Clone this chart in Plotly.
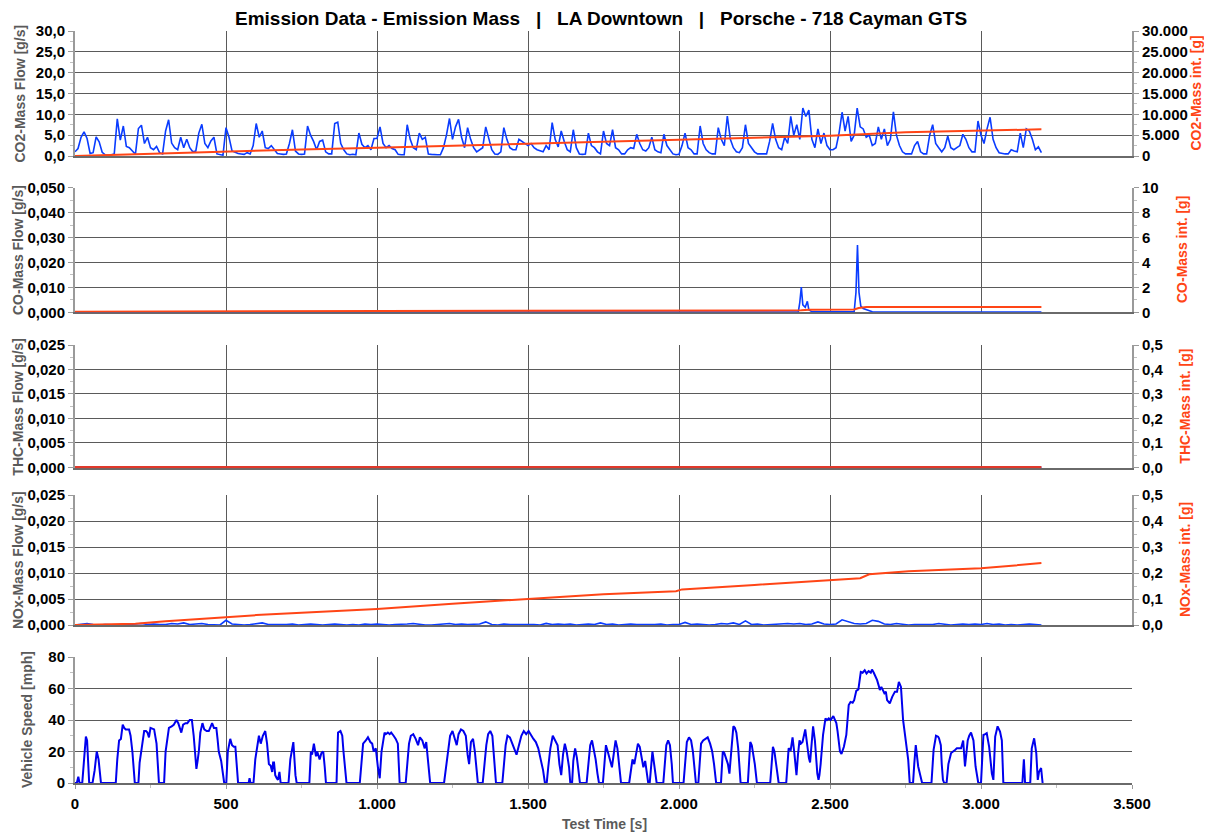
import plotly.graph_objects as go

# ---- data ----
# CO2 mass flow, one sample every 10 s
co2_time = list(range(0, 3201, 10))
co2_flow = [
    1.0, 1.8, 4.5, 5.8, 4.2, 0.6, 0.8, 4.6, 3.4, 0.9,
    0.3, 0.2, 0.3, 0.5, 8.9, 3.8, 7.2, 2.3, 2.0, 1.2,
    0.4, 6.6, 7.4, 3.0, 4.5, 2.0, 1.5, 2.3, 0.8, 0.5,
    6.0, 8.7, 3.1, 2.0, 1.5, 4.5, 2.0, 4.0, 2.0, 1.0,
    1.2, 5.5, 7.6, 3.0, 2.0, 3.6, 4.5, 0.5, 0.3, 0.2,
    6.8, 4.5, 1.2, 0.8, 0.6, 0.5, 0.4, 0.8, 0.5, 2.5,
    7.8, 4.5, 6.0, 2.0, 1.8, 2.5, 1.5, 0.6, 0.5, 0.4,
    0.5, 3.0, 6.3, 1.2, 0.5, 0.4, 0.5, 7.2, 5.0, 3.5,
    1.5, 3.5, 3.8, 1.0, 0.5, 0.5, 7.8, 8.1, 3.0, 1.5,
    0.5, 0.3, 0.4, 0.3, 5.5, 2.8, 2.0, 2.5, 1.5, 4.2,
    4.2, 7.0, 3.0, 2.0, 2.5, 1.8, 1.5, 0.4, 0.3, 0.3,
    7.5, 4.0, 2.0, 1.5, 5.5, 4.0, 4.5, 0.5, 0.4, 0.3,
    0.3, 0.3, 2.0, 5.0, 9.0, 4.0, 7.0, 8.8, 4.5, 2.0,
    6.8, 4.0, 2.0, 1.0, 1.5, 2.0, 7.0, 4.0, 1.5, 0.5,
    0.4, 1.0, 6.8, 4.0, 2.0, 1.5, 1.5, 4.0, 3.5, 3.0,
    2.5, 3.0, 2.0, 1.5, 1.2, 1.0, 2.5, 1.5, 8.0, 4.0,
    2.2, 6.0, 3.5, 1.5, 1.0, 6.3, 2.0, 0.5, 0.4, 0.5,
    5.5, 2.5, 2.0, 1.0, 0.5, 6.0, 3.0, 2.5, 6.3, 2.0,
    1.5, 0.5, 0.5, 1.5, 2.0, 1.8, 5.2, 3.0, 1.5, 1.2,
    2.0, 4.5, 1.5, 1.0, 0.8, 5.2, 2.5, 1.5, 0.5, 0.3,
    0.4, 2.5, 5.5, 2.0, 1.5, 0.5, 0.5, 7.2, 3.0, 1.5,
    0.8, 0.5, 0.5, 6.8, 4.0, 2.5, 9.6, 4.0, 2.0, 1.0,
    0.8, 2.0, 7.5, 3.0, 2.0, 1.0, 0.5, 0.5, 0.4, 0.5,
    3.5, 7.8, 4.0, 2.0, 1.5, 4.5, 3.0, 9.5, 5.0, 7.5,
    4.0, 11.5, 9.5, 11.0, 4.0, 2.0, 6.5, 3.0, 5.5, 2.5,
    1.5, 1.5, 2.0, 5.5, 10.5, 6.0, 9.5, 3.5, 5.0, 11.5,
    7.0, 6.5, 4.5, 5.0, 2.5, 3.0, 7.0, 4.0, 6.5, 2.5,
    4.0, 10.6, 5.0, 2.5, 1.0, 0.5, 0.5, 0.5, 2.5, 3.5,
    1.0, 0.5, 0.5, 5.0, 7.5, 3.0, 2.0, 1.0, 2.0, 4.8,
    2.0, 1.5, 2.0, 2.5, 5.2, 4.0, 2.0, 1.0, 1.0, 8.4,
    5.0, 3.0, 6.5, 9.3, 4.0, 2.0, 0.8, 0.6, 0.5, 0.5,
    1.5, 1.2, 1.0, 5.5, 2.0, 6.5, 6.0, 4.0, 1.5, 2.2,
    0.8,
]

co2_int_time = [0, 250, 500, 750, 1000, 1250, 1500, 1750, 2000, 2250, 2500, 2750, 3000, 3200]
co2_int = [0, 560, 1070, 1560, 2000, 2470, 2940, 3420, 3900, 4250, 4840, 5700, 6100, 6400]

co_time = [0, 500, 1000, 1500, 2000, 2395, 2400, 2405, 2410, 2418, 2425, 2430, 2440,
           2580, 2586, 2591, 2596, 2602, 2610, 2625, 2640, 3200]
co_flow = [0.0001, 0.0001, 0.0001, 0.0001, 0.0001, 0.0001, 0.004, 0.0101, 0.003, 0.002,
           0.0044, 0.001, 0.0002, 0.0002, 0.008, 0.027, 0.008, 0.0025, 0.0015, 0.0008,
           0.0002, 0.0001]
co_int_time = [0, 2395, 2405, 2430, 2580, 2595, 2620, 3200]
co_int = [0.05, 0.1, 0.16, 0.21, 0.22, 0.35, 0.42, 0.42]

thc_time = [0, 3200]
thc_flow = [0.0, 0.0]
thc_int = [0.0, 0.0]

# NOx mass flow, one sample every 20 s
nox_time = list(range(0, 3201, 20))
nox_flow = [
    0.0000, 0.0001, 0.0003, 0.0001, 0.0000, 0.0001, 0.0000, 0.0000, 0.0002, 0.0001,
    0.0002, 0.0003, 0.0001, 0.0002, 0.0001, 0.0001, 0.0003, 0.0002, 0.0004, 0.0001,
    0.0002, 0.0003, 0.0001, 0.0001, 0.0000, 0.0009, 0.0002, 0.0001, 0.0000, 0.0001,
    0.0003, 0.0004, 0.0001, 0.0001, 0.0000, 0.0001, 0.0002, 0.0000, 0.0001, 0.0002,
    0.0001, 0.0000, 0.0001, 0.0002, 0.0001, 0.0000, 0.0001, 0.0000, 0.0002, 0.0001,
    0.0002, 0.0001, 0.0000, 0.0001, 0.0001, 0.0002, 0.0003, 0.0001, 0.0000, 0.0000,
    0.0001, 0.0002, 0.0003, 0.0001, 0.0002, 0.0001, 0.0001, 0.0002, 0.0006, 0.0001,
    0.0000, 0.0002, 0.0001, 0.0001, 0.0002, 0.0001, 0.0001, 0.0000, 0.0003, 0.0001,
    0.0002, 0.0001, 0.0002, 0.0000, 0.0001, 0.0002, 0.0001, 0.0004, 0.0001, 0.0002,
    0.0000, 0.0001, 0.0002, 0.0001, 0.0001, 0.0000, 0.0001, 0.0002, 0.0000, 0.0001,
    0.0001, 0.0005, 0.0001, 0.0002, 0.0001, 0.0000, 0.0001, 0.0003, 0.0002, 0.0004,
    0.0001, 0.0008, 0.0001, 0.0002, 0.0000, 0.0001, 0.0001, 0.0002, 0.0003, 0.0002,
    0.0003, 0.0001, 0.0002, 0.0006, 0.0002, 0.0001, 0.0002, 0.0010, 0.0006, 0.0003,
    0.0002, 0.0003, 0.0009, 0.0007, 0.0002, 0.0001, 0.0003, 0.0001, 0.0000, 0.0001,
    0.0001, 0.0002, 0.0001, 0.0003, 0.0001, 0.0000, 0.0001, 0.0002, 0.0001, 0.0002,
    0.0001, 0.0003, 0.0001, 0.0002, 0.0000, 0.0001, 0.0000, 0.0001, 0.0002, 0.0001,
    0.0000,
]
nox_int_time = [0, 150, 200, 300, 400, 500, 600, 750, 1000, 1250, 1500, 1750, 1990, 2010,
                2250, 2500, 2600, 2630, 2700, 2760, 3000, 3200]
nox_int = [0, 0.002, 0.005, 0.014, 0.022, 0.031, 0.038, 0.047, 0.062, 0.082, 0.101, 0.118,
           0.130, 0.137, 0.154, 0.172, 0.180, 0.195, 0.200, 0.207, 0.218, 0.238]

speed_time = [
    0, 6, 11, 15, 24, 30, 36, 40, 47, 58, 65, 72, 78, 86, 135, 140, 146, 152, 158, 163, 168, 179,
    184, 190, 198, 210, 214, 223, 229, 235, 240, 245, 250, 262, 266, 270, 278, 295, 300, 311, 320,
    327, 336, 342, 352, 358, 366, 372, 380, 387, 393, 398, 402, 406, 410, 415, 422, 428, 436, 443,
    450, 454, 460, 468, 472, 476, 484, 490, 494, 501, 506, 511, 514, 520, 526, 531, 536, 540, 575,
    578, 581, 591, 597, 604, 609, 615, 622, 630, 636, 642, 648, 653, 656, 659, 663, 668, 672, 677,
    681, 707, 713, 723, 727, 730, 734, 776, 781, 785, 791, 798, 802, 805, 810, 816, 822, 827, 831,
    866, 871, 879, 885, 889, 893, 899, 943, 948, 954, 963, 970, 978, 984, 989, 996, 1003, 1009,
    1015, 1025, 1029, 1036, 1042, 1047, 1055, 1062, 1069, 1075,
    1095, 1100, 1106, 1112, 1120, 1128, 1136, 1142, 1150, 1158, 1163, 1170, 1176,
    1222, 1228, 1235, 1242, 1250, 1258, 1264, 1270, 1278, 1286, 1294, 1300, 1305, 1311, 1318,
    1324, 1330, 1334, 1350, 1356, 1362, 1368, 1375, 1382, 1388, 1394,
    1415, 1420, 1426, 1432, 1440, 1448, 1455, 1462, 1470, 1478, 1486, 1494, 1502, 1510, 1518,
    1526, 1534, 1542, 1550, 1556, 1562, 1567, 1574, 1582, 1590, 1598, 1604, 1610, 1616, 1622,
    1628, 1636, 1640, 1646, 1650, 1656, 1662, 1668, 1672, 1694, 1700, 1706, 1712, 1718, 1724,
    1730, 1735, 1748, 1753, 1758, 1764, 1772, 1778, 1785, 1790, 1796, 1802, 1808,
    1835, 1840, 1846, 1852, 1858, 1864, 1870, 1876, 1882, 1888, 1894, 1898, 1903, 1907, 1912,
    1917, 1922, 1926, 1948, 1953, 1958, 1964, 1970, 1976, 1980, 2015, 2020, 2026, 2033, 2040,
    2046, 2052, 2056, 2064, 2069, 2073, 2080, 2086, 2095, 2103, 2110, 2116, 2123,
    2139, 2145, 2150, 2156, 2162, 2167, 2171, 2176, 2180, 2185, 2190, 2196, 2200, 2204, 2228,
    2232, 2236, 2241, 2246, 2251, 2258, 2302, 2306, 2311, 2316, 2322, 2330, 2355, 2359, 2363,
    2370, 2376, 2382, 2389, 2394, 2399, 2404, 2409, 2418, 2424, 2430, 2434, 2439, 2444, 2450,
    2455, 2458, 2462, 2465, 2469, 2473, 2477, 2485, 2490, 2496, 2502, 2511, 2516, 2521, 2525,
    2529, 2533, 2538, 2546, 2554, 2558, 2562, 2568, 2575, 2580, 2587, 2594, 2600, 2602, 2608,
    2615, 2621, 2628, 2635, 2639, 2645, 2650, 2656, 2661, 2665, 2670, 2675, 2680, 2685, 2689,
    2698, 2706, 2715, 2722, 2728, 2735, 2742, 2750, 2755, 2759, 2764, 2775, 2779, 2784, 2792,
    2800, 2805, 2836, 2843, 2851, 2858, 2861, 2867, 2870, 2874, 2878, 2886, 2892, 2901, 2914,
    2920, 2925, 2934, 2941, 2947, 2956, 2961, 2967, 2975, 2982, 2991, 3000, 3004, 3008, 3014,
    3019, 3027, 3031, 3036, 3041, 3047, 3055, 3063, 3069, 3074, 3137, 3142, 3146, 3163, 3168,
    3176, 3183, 3188, 3192, 3195, 3199, 3204,
]
speed = [
    0, 0, 4, 0, 0, 15, 29.5, 27, 0, 0, 8, 20, 15, 0, 0, 15, 27, 28, 37, 35, 34, 34,
    30, 20, 0, 0, 13, 25, 33, 33, 32, 29, 35, 34, 30, 25, 0, 0, 20, 35, 36,
    37, 40, 38, 32, 37, 38, 38, 40, 40, 30, 18, 9, 14, 20, 32, 38, 34, 33, 33,
    36, 38, 35, 35, 28, 20, 14, 5, 0, 0, 20, 25, 28, 24, 23, 23, 10, 0, 0,
    3, 0, 0, 15, 25, 30, 25, 30, 33, 25, 12, 11, 7, 13, 13, 5, 3, 2, 7,
    0, 0, 15, 26, 12, 5, 0, 0, 20, 18, 25, 17, 20, 18, 15, 19, 20, 10, 0,
    0, 32, 33, 30, 20, 10, 0, 0, 13, 25, 27, 29, 26, 25, 20, 22, 10, 3,
    20, 32, 31, 32, 31, 32, 30, 28, 25, 0,
    0, 12, 25, 30, 31, 28, 24, 29, 27, 22, 26, 12, 0,
    0, 10, 22, 30, 33, 28, 24, 31, 34, 33, 30, 18, 12, 26, 28,
    20, 8, 0, 0, 12, 24, 31, 33, 30, 17, 0,
    0, 10, 24, 30, 29, 25, 22, 18, 24, 30, 33, 31, 33, 30, 28,
    26, 22, 15, 8, 0, 0, 10, 22, 30, 27, 24, 12, 5, 18, 25,
    20, 10, 0, 0, 14, 22, 16, 4, 0, 0, 14, 24, 27, 22, 15,
    6, 0, 0, 14, 24, 20, 14, 10, 20, 27, 22, 10, 0,
    0, 8, 15, 12, 18, 25, 23, 16, 10, 14, 7, 0, 0, 12, 20,
    13, 6, 0, 0, 14, 24, 27, 24, 12, 0, 0, 14, 26, 29, 27,
    20, 8, 0, 0, 14, 25, 27, 28, 29, 25, 20, 12, 0,
    0, 20, 19, 16, 12, 6, 15, 23, 36, 35, 32, 22, 13, 0, 0,
    15, 26, 24, 19, 12, 0, 0, 10, 23, 20, 10.5, 0, 0, 12, 22,
    21, 29, 19, 5, 18, 27, 25, 26, 34, 23, 16, 13, 26, 36, 27,
    12, 6, 2, 5, 12, 22, 30.5, 41, 40, 41, 40, 42.5, 40, 38, 33,
    26, 20, 18.5, 23, 30.5, 40, 49.5, 51.5, 51, 52.6, 58.5, 59.4, 66, 70.5, 70,
    71.6, 69.5, 71, 70, 72, 70, 68, 65.3, 62, 59, 61, 59, 57, 58, 52.6,
    50.5, 54.7, 58, 58, 64.2, 61, 40, 29.5, 22, 14.7, 0, 0, 12, 24, 10.5,
    4, 0, 0, 21, 30, 29.4, 28.4, 24, 12, 2, 0, 0, 12, 19, 21,
    22, 22, 22, 27, 10.5, 27, 30, 32, 27, 10.5, 0, 0, 20, 30.5, 31,
    31.6, 23, 15, 6, 2, 29.5, 36, 32.6, 27, 0, 0, 15, 0, 0, 22,
    28.4, 19, 2, 7, 8.4, 9.5, 0,
]

x_ticks = [0, 500, 1000, 1500, 2000, 2500, 3000, 3500]

BLUE = "#0a3cff"
SPEED_BLUE = "#0000ee"
ORANGE = "#ff4516"
GRID = "#5a5a5a"
AXIS = "#9a9a9a"
TICKFONT = dict(family="Liberation Sans", size=15, color="black", weight="bold")
TITLEFONT = dict(family="Liberation Sans", size=14, color="#5a5a5a", weight="bold")
RTITLEFONT = dict(family="Liberation Sans", size=14, color=ORANGE, weight="bold")

# the page body adds an 8 px offset; plot area is px 75..1132 x 31..783 in the window
OFF = 8
W, H = 1212 - OFF, 836 - OFF
ML, MT = 75 - OFF, 31 - OFF
MR, MB = 1212 - 1132, 836 - 783
PW = W - ML - MR
PH = H - MT - MB


def px_x(px):
    return (px - 75) / PW


def px_y(py):
    return (783 - py) / PH


def left_axis(domain, rng, dtick, fmt, anchor):
    return dict(domain=domain, range=rng, dtick=dtick, tick0=0, tickformat=fmt, anchor=anchor,
                showgrid=True, gridcolor=GRID, gridwidth=1, zeroline=False,
                showline=True, linecolor=AXIS, linewidth=2, layer="below traces",
                ticks="outside", ticklen=5, tickcolor=AXIS, tickfont=TICKFONT,
                minor=dict(dtick=dtick / 2, ticks="outside", ticklen=3, tickcolor="#c0c0c0"),
                automargin=False)


def right_axis(over, rng, dtick, fmt, anchor):
    return dict(overlaying=over, side="right", range=rng, dtick=dtick, tick0=0, tickformat=fmt,
                anchor=anchor, showgrid=False, zeroline=False,
                showline=True, linecolor=AXIS, linewidth=2, layer="below traces",
                ticks="outside", ticklen=5, tickcolor=AXIS, tickfont=TICKFONT,
                minor=dict(dtick=dtick / 2, ticks="outside", ticklen=3, tickcolor="#c0c0c0"),
                automargin=False)


def x_axis(anchor, labels=False):
    ax = dict(domain=[0, 1], range=[0, 3500], tickvals=x_ticks, anchor=anchor,
              showgrid=True, gridcolor=GRID, gridwidth=1, zeroline=False,
              showline=True, linecolor="#6a6a6a", linewidth=2, layer="below traces",
              showticklabels=labels, ticks="", automargin=False)
    if labels:
        ax.update(tickformat=",.0f", tickfont=TICKFONT, ticks="outside", ticklen=4,
                  tickcolor=AXIS, ticklabelstandoff=2,
                  minor=dict(dtick=250, ticks="outside", ticklen=3, tickcolor="#c0c0c0"))
    return ax


fig = go.Figure()

line_b = dict(color=BLUE, width=1.6)
line_o = dict(color=ORANGE, width=2)

fig.add_trace(go.Scatter(x=co2_time, y=co2_flow, xaxis="x", yaxis="y", mode="lines", line=line_b))
fig.add_trace(go.Scatter(x=co2_int_time, y=co2_int, xaxis="x", yaxis="y2", mode="lines", line=line_o))

fig.add_trace(go.Scatter(x=co_time, y=co_flow, xaxis="x2", yaxis="y3", mode="lines", line=line_b))
fig.add_trace(go.Scatter(x=co_int_time, y=co_int, xaxis="x2", yaxis="y4", mode="lines", line=line_o))

fig.add_trace(go.Scatter(x=thc_time, y=thc_flow, xaxis="x3", yaxis="y5", mode="lines", line=line_b))
fig.add_trace(go.Scatter(x=thc_time, y=thc_int, xaxis="x3", yaxis="y6", mode="lines",
                         line=dict(color="#e0382a", width=2.4)))

fig.add_trace(go.Scatter(x=nox_time, y=nox_flow, xaxis="x4", yaxis="y7", mode="lines", line=line_b))
fig.add_trace(go.Scatter(x=nox_int_time, y=nox_int, xaxis="x4", yaxis="y8", mode="lines", line=line_o))

fig.add_trace(go.Scatter(x=speed_time, y=speed, xaxis="x5", yaxis="y9", mode="lines",
                         line=dict(color=SPEED_BLUE, width=2)))

# panel extents in window pixels (top, bottom)
panels = [(31, 156), (187.7, 312.3), (345, 468.3), (495, 625), (657, 783)]
doms = [[px_y(b), px_y(t)] for t, b in panels]
doms[0][1] = min(doms[0][1], 1.0)

# axis titles placed as rotated annotations (x in window px)
left_titles = [("CO2-Mass Flow [g/s]", 19), ("CO-Mass Flow [g/s]", 18), ("THC-Mass Flow [g/s]", 18),
               ("NOx-Mass Flow [g/s]", 18), ("Vehicle Speed [mph]", 27)]
right_titles = [("CO2-Mass int. [g]", 1195), ("CO-Mass int. [g]", 1182),
                ("THC-Mass int. [g]", 1185), ("NOx-Mass int. [g]", 1185)]

annotations = []
for i, (text, xpx) in enumerate(left_titles):
    t, b = panels[i]
    annotations.append(dict(text=text, x=px_x(xpx), y=px_y((t + b) / 2), xref="paper", yref="paper",
                            xanchor="center", yanchor="middle", textangle=-90, showarrow=False,
                            font=TITLEFONT))
for i, (text, xpx) in enumerate(right_titles):
    t, b = panels[i]
    annotations.append(dict(text=text, x=px_x(xpx), y=px_y((t + b) / 2), xref="paper", yref="paper",
                            xanchor="center", yanchor="middle", textangle=-90, showarrow=False,
                            font=RTITLEFONT))
annotations.append(dict(text="Test Time [s]", x=px_x(604), y=px_y(824), xref="paper", yref="paper",
                        xanchor="center", yanchor="middle", showarrow=False,
                        font=dict(family="Liberation Sans", size=14, color="#5a5a5a", weight="bold")))
annotations.append(dict(text="Emission Data - Emission Mass   |   LA Downtown   |   Porsche - 718 Cayman GTS",
                        x=px_x(601), y=px_y(18), xref="paper", yref="paper",
                        xanchor="center", yanchor="middle", showarrow=False,
                        font=dict(family="Liberation Sans", size=19, color="black", weight="bold")))

fig.update_layout(
    width=W, height=H,
    margin=dict(l=ML, r=MR, t=MT, b=MB),
    paper_bgcolor="white", plot_bgcolor="white",
    showlegend=False,
    separators=",.",
    annotations=annotations,
    xaxis=x_axis("y"),
    xaxis2=x_axis("y3"),
    xaxis3=x_axis("y5"),
    xaxis4=x_axis("y7"),
    xaxis5=x_axis("y9", labels=True),
    yaxis=left_axis(doms[0], [0, 30], 5, ".1f", "x"),
    yaxis2=right_axis("y", [0, 30000], 5000, ",.0f", "x"),
    yaxis3=left_axis(doms[1], [0, 0.05], 0.01, ".3f", "x2"),
    yaxis4=right_axis("y3", [0, 10], 2, "d", "x2"),
    # THC range starts a hair below zero so the zero-level lines are not clipped in half
    yaxis5=left_axis(doms[2], [-0.0002, 0.025], 0.005, ".3f", "x3"),
    yaxis6=right_axis("y5", [-0.004, 0.5], 0.1, ".1f", "x3"),
    yaxis7=left_axis(doms[3], [0, 0.025], 0.005, ".3f", "x4"),
    yaxis8=right_axis("y7", [0, 0.5], 0.1, ".1f", "x4"),
    yaxis9=left_axis(doms[4], [0, 80], 20, "d", "x5"),
)

fig.write_html("out.html")
